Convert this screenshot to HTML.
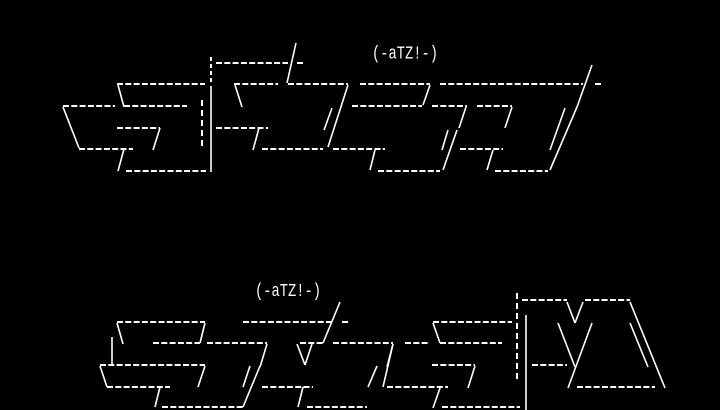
<!DOCTYPE html>
<html><head><meta charset="utf-8"><style>
html,body{margin:0;padding:0;background:#000;width:720px;height:410px;overflow:hidden}
svg{display:block}
.d{stroke:#fff;stroke-width:2;stroke-dasharray:6 2.3;fill:none}
.s{stroke:#fff;stroke-width:1.6;fill:none}
.t{fill:#fff;font-family:"Liberation Mono",monospace;font-size:14px}
</style></head><body>
<svg width="720" height="410" viewBox="0 0 720 410">
<g class="d">
<!-- top -->
<line x1="211" y1="57" x2="211" y2="83" stroke-dasharray="4 3"/>
<line x1="216" y1="63" x2="288" y2="63"/>
<line x1="297" y1="63" x2="305" y2="63"/>
<line x1="117" y1="84" x2="205" y2="84"/>
<line x1="234" y1="84" x2="278" y2="84"/>
<line x1="288" y1="84" x2="348" y2="84"/>
<line x1="360" y1="84" x2="430" y2="84"/>
<line x1="440" y1="84" x2="583" y2="84"/>
<line x1="595" y1="84" x2="602" y2="84"/>
<line x1="63" y1="106" x2="115" y2="106"/>
<line x1="124" y1="106" x2="187" y2="106"/>
<line x1="352" y1="106" x2="422" y2="106"/>
<line x1="432" y1="106" x2="467" y2="106"/>
<line x1="477" y1="106" x2="512" y2="106"/>
<line x1="202" y1="100" x2="202" y2="148" stroke-dasharray="6 4"/>
<line x1="117" y1="128" x2="160" y2="128"/>
<line x1="216" y1="128" x2="268" y2="128"/>
<line x1="79" y1="149" x2="133" y2="149"/>
<line x1="262" y1="149" x2="323" y2="149"/>
<line x1="333" y1="149" x2="385" y2="149"/>
<line x1="460" y1="149" x2="503" y2="149"/>
<line x1="126" y1="171" x2="206" y2="171"/>
<line x1="378" y1="171" x2="440" y2="171"/>
<line x1="495" y1="171" x2="548" y2="171"/>
<!-- bottom -->
<line x1="117" y1="322" x2="205" y2="322"/>
<line x1="243" y1="322" x2="332" y2="322"/>
<line x1="342" y1="322" x2="348" y2="322"/>
<line x1="153" y1="343" x2="200" y2="343"/>
<line x1="207" y1="343" x2="267" y2="343"/>
<line x1="300" y1="343" x2="323" y2="343"/>
<line x1="333" y1="343" x2="393" y2="343"/>
<line x1="405" y1="343" x2="430" y2="343"/>
<line x1="440" y1="343" x2="502" y2="343"/>
<line x1="100" y1="365" x2="205" y2="365"/>
<line x1="107" y1="387" x2="170" y2="387"/>
<line x1="262" y1="387" x2="313" y2="387"/>
<line x1="387" y1="387" x2="448" y2="387"/>
<line x1="577" y1="387" x2="655" y2="387"/>
<line x1="162" y1="407" x2="243" y2="407"/>
<line x1="307" y1="407" x2="367" y2="407"/>
<line x1="442" y1="407" x2="520" y2="407"/>
<line x1="522" y1="300" x2="567" y2="300"/>
<line x1="585" y1="300" x2="630" y2="300"/>
<line x1="433" y1="322" x2="512" y2="322"/>
<line x1="432" y1="365" x2="475" y2="365"/>
<line x1="532" y1="365" x2="567" y2="365"/>
<line x1="517" y1="293" x2="517" y2="383" stroke-dasharray="6 4"/>
</g>
<g class="s">
<!-- top -->
<line x1="211" y1="86" x2="211" y2="172"/>
<line x1="287" y1="83" x2="296" y2="43"/>
<line x1="118" y1="85" x2="124" y2="107"/>
<line x1="235" y1="85" x2="242" y2="107"/>
<line x1="348" y1="85" x2="328" y2="147"/>
<line x1="332" y1="108" x2="324" y2="130"/>
<line x1="63" y1="107" x2="79" y2="148"/>
<line x1="160" y1="128" x2="153" y2="150"/>
<line x1="259" y1="128" x2="253" y2="150"/>
<line x1="124" y1="149" x2="118" y2="171"/>
<line x1="430" y1="85" x2="423" y2="105"/>
<line x1="592" y1="65" x2="577" y2="107"/>
<line x1="466" y1="107" x2="459" y2="128"/>
<line x1="512" y1="107" x2="505" y2="128"/>
<line x1="448" y1="130" x2="442" y2="150"/>
<line x1="457" y1="130" x2="443" y2="170"/>
<line x1="577" y1="107" x2="550" y2="170"/>
<line x1="565" y1="108" x2="550" y2="150"/>
<line x1="375" y1="150" x2="370" y2="170"/>
<line x1="493" y1="150" x2="487" y2="170"/>
<!-- bottom -->
<line x1="117" y1="323" x2="123" y2="344"/>
<line x1="205" y1="323" x2="200" y2="343"/>
<line x1="205" y1="366" x2="198" y2="387"/>
<line x1="340" y1="302" x2="323" y2="343"/>
<line x1="267" y1="344" x2="260" y2="367"/>
<line x1="297" y1="344" x2="305" y2="365"/>
<line x1="312" y1="344" x2="305" y2="365"/>
<line x1="393" y1="344" x2="383" y2="387"/>
<line x1="112" y1="337" x2="112" y2="365"/>
<line x1="100" y1="366" x2="107" y2="387"/>
<line x1="250" y1="366" x2="243" y2="387"/>
<line x1="260" y1="366" x2="243" y2="407"/>
<line x1="377" y1="366" x2="368" y2="387"/>
<line x1="160" y1="387" x2="155" y2="407"/>
<line x1="303" y1="387" x2="298" y2="407"/>
<line x1="526" y1="315" x2="526" y2="410"/>
<line x1="567" y1="302" x2="575" y2="323"/>
<line x1="583" y1="302" x2="575" y2="323"/>
<line x1="630" y1="302" x2="665" y2="388"/>
<line x1="630" y1="323" x2="648" y2="367"/>
<line x1="433" y1="323" x2="440" y2="343"/>
<line x1="558" y1="323" x2="575" y2="367"/>
<line x1="592" y1="323" x2="568" y2="388"/>
<line x1="393" y1="344" x2="387" y2="367"/>
<line x1="475" y1="366" x2="468" y2="388"/>
<line x1="440" y1="388" x2="433" y2="408"/>
</g>
<text class="t" x="372" y="59" transform="translate(0,-18) scale(1,1.3)" textLength="66" lengthAdjust="spacingAndGlyphs">(-aTZ!-)</text>
<text class="t" x="255" y="296" transform="translate(0,-89) scale(1,1.3)" textLength="66" lengthAdjust="spacingAndGlyphs">(-aTZ!-)</text>
</svg>
</body></html>
